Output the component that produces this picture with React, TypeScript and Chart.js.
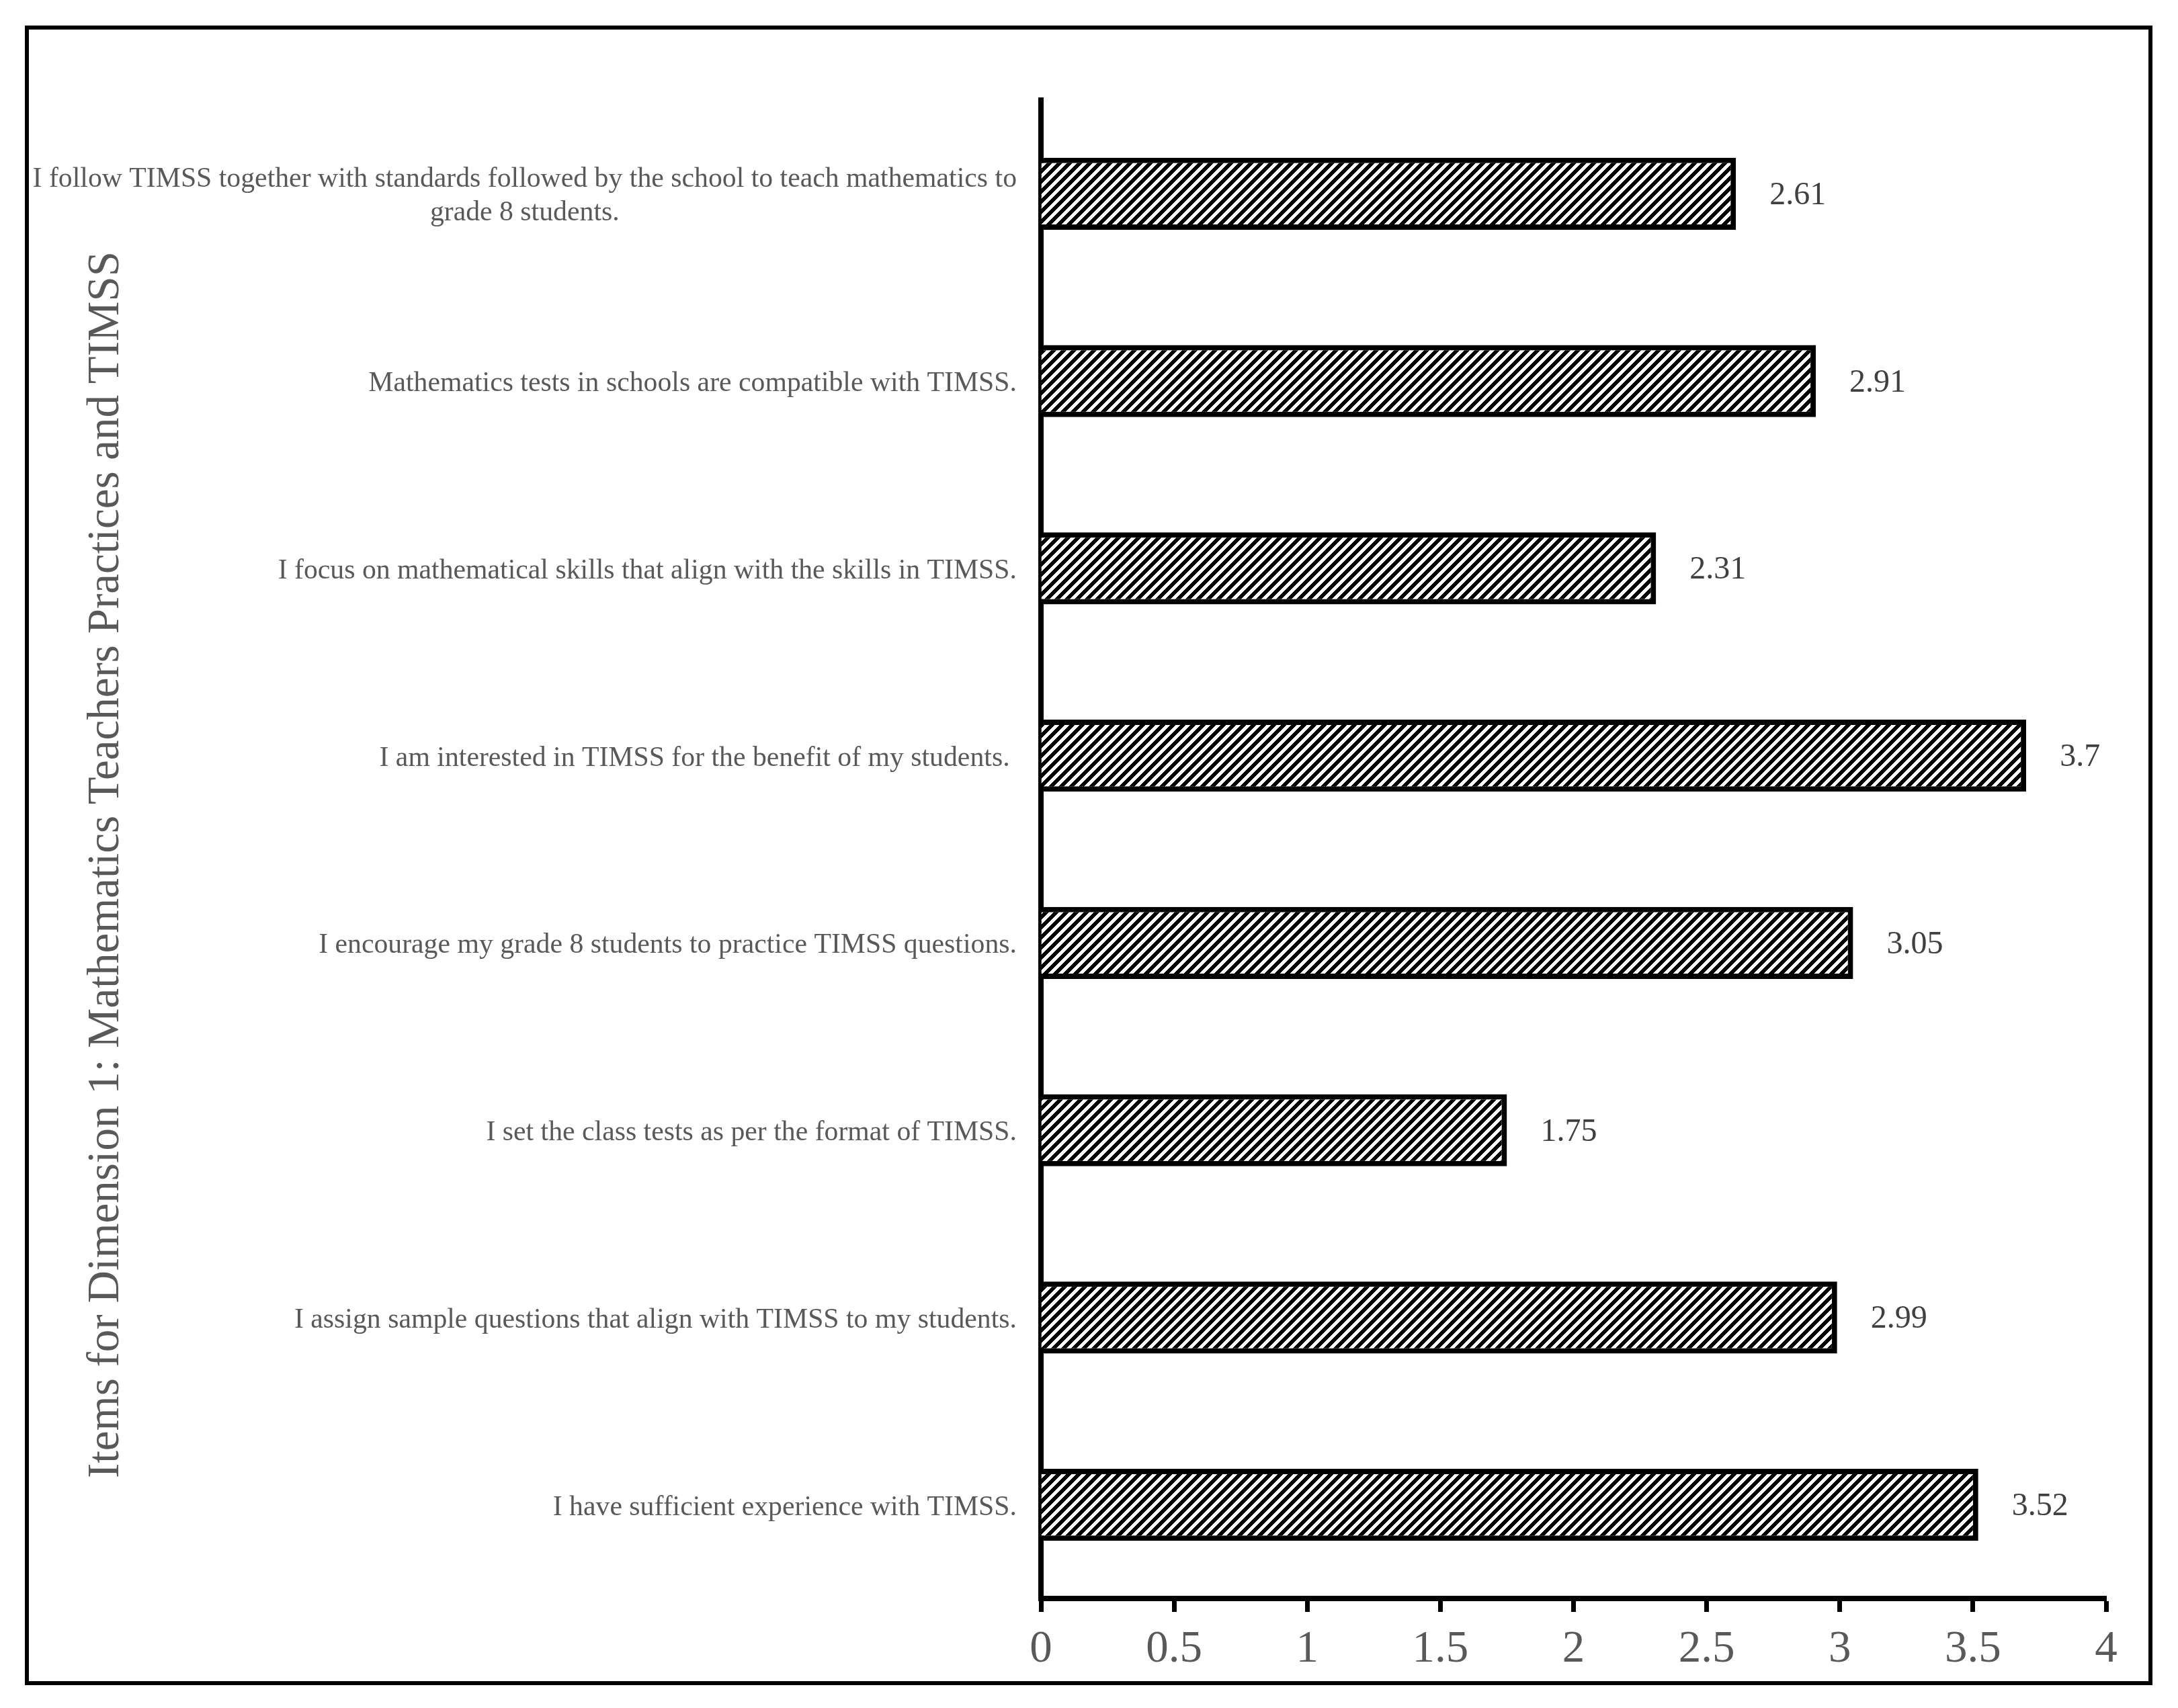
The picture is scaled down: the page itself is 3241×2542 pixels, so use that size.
import React, { useEffect, useRef } from 'react';
import { Chart, registerables } from 'chart.js';

Chart.register(...registerables);

// ---------- data ----------
const categoryLines: string[][] = [
  ['I follow TIMSS together with standards followed by the school to teach mathematics to', 'grade 8 students.'],
  ['Mathematics tests in schools are compatible with TIMSS.'],
  ['I focus on mathematical skills that align with the skills in TIMSS.'],
  ['I am interested in TIMSS for the benefit of my students. '],
  ['I encourage my grade 8 students to practice TIMSS questions.'],
  ['I set the class tests as per the format of TIMSS.'],
  ['I assign sample questions that align with TIMSS to my students.'],
  ['I have sufficient experience with TIMSS.'],
];
const meanValues: number[] = [2.61, 2.91, 2.31, 3.7, 3.05, 1.75, 2.99, 3.52];
const xTickValues: number[] = [0, 0.5, 1, 1.5, 2, 2.5, 3, 3.5, 4];
const yAxisTitle = 'Items for Dimension 1: Mathematics Teachers Practices and TIMSS';

const W = 3241;
const H = 2542;
const SERIF = '"Liberation Serif", "Times New Roman", serif';

function makeHatch(): CanvasPattern | string {
  const P = 15;
  const c = document.createElement('canvas');
  c.width = P;
  c.height = P;
  const g = c.getContext('2d');
  if (!g) return '#888';
  const img = g.createImageData(P, P);
  for (let y = 0; y < P; y++) {
    for (let x = 0; x < P; x++) {
      const k = (x + y) % P;
      const v = k < 8 ? 0 : 255;
      const i = (y * P + x) * 4;
      img.data[i] = v;
      img.data[i + 1] = v;
      img.data[i + 2] = v;
      img.data[i + 3] = 255;
    }
  }
  g.putImageData(img, 0, 0);
  return g.createPattern(c, 'repeat') || '#888';
}

const framePlugin = {
  id: 'frame',
  beforeDraw(chart: any) {
    const ctx = chart.ctx;
    ctx.save();
    ctx.fillStyle = '#fff';
    ctx.fillRect(0, 0, chart.width, chart.height);
    ctx.restore();
  },
  afterDraw(chart: any) {
    const ctx = chart.ctx;
    ctx.save();
    ctx.strokeStyle = '#000';
    ctx.lineWidth = 6;
    ctx.strokeRect(40, 41, 3160, 2464);
    ctx.restore();
  },
};

const textPlugin = {
  id: 'texts',
  afterDraw(chart: any) {
    const ctx = chart.ctx;
    const yScale = chart.scales.y;
    const xScale = chart.scales.x;
    const area = chart.chartArea;
    ctx.save();
    // category labels
    ctx.font = `41.75px ${SERIF}`;
    ctx.fillStyle = '#595959';
    ctx.textAlign = 'center';
    ctx.textBaseline = 'middle';
    const lineH = 50;
    categoryLines.forEach((lines, i) => {
      const yc = yScale.getPixelForValue(i) + 4;
      const maxW = Math.max(...lines.map((l) => ctx.measureText(l).width));
      const cx = area.left - 36 - maxW / 2;
      lines.forEach((l, j) => {
        ctx.fillText(l, cx, yc + (j - (lines.length - 1) / 2) * lineH);
      });
    });
    // value labels
    ctx.font = `48px ${SERIF}`;
    ctx.fillStyle = '#404040';
    ctx.textAlign = 'left';
    meanValues.forEach((v, i) => {
      const x = xScale.getPixelForValue(v) + 50;
      const y = yScale.getPixelForValue(i) + 3;
      ctx.fillText(String(v), x, y);
    });
    // y axis title
    ctx.font = `67px ${SERIF}`;
    ctx.fillStyle = '#595959';
    ctx.textAlign = 'center';
    ctx.translate(158, (area.top + area.bottom) / 2 + 23);
    ctx.rotate(-Math.PI / 2);
    ctx.fillText(yAxisTitle, 0, 0);
    ctx.restore();
  },
};

export default function App() {
  const ref = useRef<HTMLCanvasElement | null>(null);
  useEffect(() => {
    if (!ref.current) return;
    const pattern = makeHatch();
    const chart = new Chart(ref.current, {
      type: 'bar',
      data: {
        labels: categoryLines.map((l) => l.join(' ')),
        datasets: [
          {
            data: meanValues,
            backgroundColor: pattern as any,
            borderColor: '#000',
            borderWidth: 8,
            barPercentage: 0.385,
            categoryPercentage: 1,
          },
        ],
      },
      options: {
        indexAxis: 'y',
        responsive: false,
        animation: false,
        devicePixelRatio: 1,
        layout: { padding: { left: 0, right: 107, top: 149, bottom: 0 } },
        plugins: {
          legend: { display: false },
          tooltip: { enabled: false },
          title: { display: false },
        },
        scales: {
          x: {
            type: 'linear',
            min: 0,
            max: 4,
            afterBuildTicks: (s: any) => {
              s.ticks = xTickValues.map((v) => ({ value: v }));
            },
            ticks: {
              color: '#595959',
              font: { family: SERIF, size: 67 },
              padding: 16,
              maxRotation: 0,
              autoSkip: false,
              callback: (v: any) => String(v),
            },
            grid: {
              display: true,
              drawOnChartArea: false,
              drawTicks: true,
              tickLength: 20,
              tickWidth: 7,
              tickColor: '#000',
            },
            border: { display: true, color: '#000', width: 8 },
            afterFit: (s: any) => {
              s.height = H - 2379;
            },
          },
          y: {
            z: 1,
            ticks: { display: false },
            grid: { display: false },
            border: { display: true, color: '#000', width: 8 },
            afterFit: (s: any) => {
              s.width = 1549;
            },
          },
        },
      } as any,
      plugins: [framePlugin, textPlugin],
    });
    return () => chart.destroy();
  }, []);
  return (
    <div style={{ position: 'fixed', left: 0, top: 0, width: W, height: H, background: '#fff' }}>
      <canvas ref={ref} width={W} height={H} style={{ width: W, height: H, display: 'block' }} />
    </div>
  );
}
